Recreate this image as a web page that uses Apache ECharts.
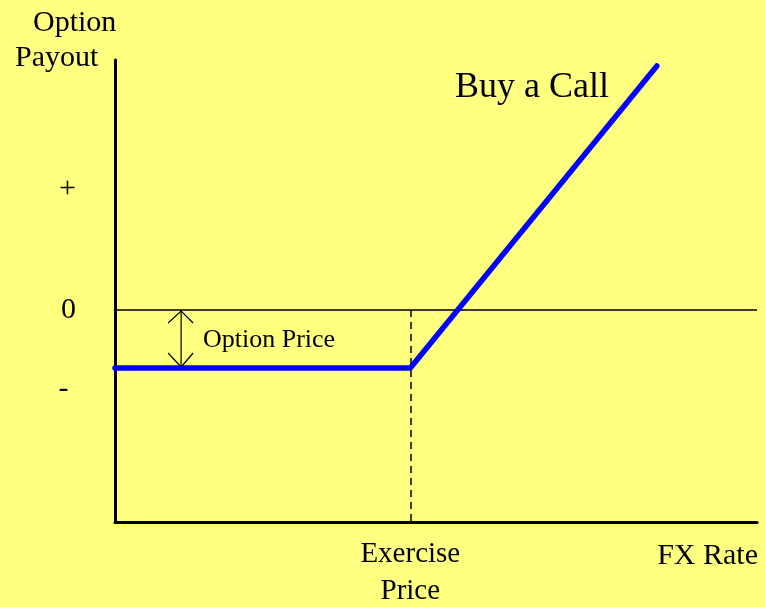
<!DOCTYPE html>
<html>
<head>
<meta charset="utf-8">
<script src="https://cdn.jsdelivr.net/npm/echarts@6/dist/echarts.min.js"></script>
<style>
  html, body { margin: 0; padding: 0; background: #ffff80; }
  #chart { width: 765px; height: 607px; }
</style>
</head>
<body>
<div id="chart"></div>
<script>
// payout of a long call, x = FX rate, y = payout (arbitrary units)
var payoutX = [0, 46, 84.4];
var payoutY = [-5.8, -5.8, 24.4];
var exercisePrice = 46;
var optionPrice = -5.8;
var arrowX = 10.3;
var yTickValues = [12.1, 0, -7.9];
var yTickLabels = ["+", "0", "- "];

var serif = "'Liberation Serif', 'Times New Roman', serif";

var myChart = echarts.init(document.getElementById("chart"));

var option = {
  backgroundColor: "#ffff80",
  animation: false,
  grid: { left: 115, right: 8, top: 60, bottom: 85, outerBoundsMode: "none" },
  xAxis: {
    type: "value",
    min: 0,
    max: 100,
    splitLine: { show: false },
    axisTick: { show: false },
    axisLine: { show: true, onZero: false, lineStyle: { color: "#000", width: 3 } },
    axisLabel: {
      customValues: [exercisePrice],
      formatter: function () { return "Exercise\nPrice"; },
      margin: 14,
      verticalAlign: "top",
      lineHeight: 37,
      fontFamily: serif,
      fontSize: 29,
      color: "#000",
    },
  },
  yAxis: {
    type: "value",
    min: -21.2,
    max: 25,
    splitLine: { show: false },
    axisTick: { show: false },
    axisLine: { show: true, onZero: false, lineStyle: { color: "#000", width: 3 } },
    axisLabel: {
      customValues: yTickValues,
      formatter: function (v) {
        var i = yTickValues.indexOf(v);
        return i >= 0 ? yTickLabels[i] : "";
      },
      margin: 39,
      fontFamily: serif,
      fontSize: 30,
      color: "#000",
    },
  },
  graphic: [
    { type: "text", left: 33, top: 8, style: { text: "Option", font: "30px " + serif, fill: "#000" } },
    { type: "text", left: 15, top: 43, style: { text: "Payout", font: "30px " + serif, fill: "#000" } },
    { type: "text", left: 455, top: 70, style: { text: "Buy a Call", font: "36px " + serif, fill: "#000" } },
    { type: "text", left: 203, top: 327, style: { text: "Option Price", font: "26px " + serif, fill: "#000" } },
    { type: "text", right: 7, top: 541, style: { text: "FX Rate", font: "30px " + serif, fill: "#000" } },
  ],
  series: [
    {
      // zero line + dashed strike marker
      type: "line",
      data: [],
      silent: true,
      markLine: {
        silent: true,
        symbol: "none",
        label: { show: false },
        data: [
          { yAxis: 0, lineStyle: { color: "#000", width: 1.5, type: "solid" } },
          [
            { coord: [exercisePrice, 0], lineStyle: { color: "#000", width: 1.5, type: [7, 5] } },
            { coord: [exercisePrice, -21.2] },
          ],
        ],
      },
    },
    {
      // double arrow showing the premium
      type: "custom",
      silent: true,
      data: [[arrowX, 0, optionPrice]],
      renderItem: function (params, api) {
        var top = api.coord([api.value(0), api.value(1)]);
        var bot = api.coord([api.value(0), api.value(2)]);
        var st = { stroke: "#000", lineWidth: 1.2, fill: null };
        var x = top[0];
        return {
          type: "group",
          children: [
            { type: "line", shape: { x1: x, y1: top[1], x2: x, y2: bot[1] }, style: st },
            { type: "polyline", shape: { points: [[x - 13, top[1] + 13], [x, top[1] + 1], [x + 12, top[1] + 13]] }, style: st },
            { type: "polyline", shape: { points: [[x - 13, bot[1] - 15], [x, bot[1] - 1], [x + 12, bot[1] - 15]] }, style: st },
          ],
        };
      },
    },
    {
      name: "Buy a Call",
      type: "line",
      data: payoutX.map(function (x, i) { return [x, payoutY[i]]; }),
      symbol: "none",
      lineStyle: { color: "#0000ff", width: 5.5, cap: "round" },
      z: 5,
    },
  ],
};

option && myChart.setOption(option);
</script>
</body>
</html>
